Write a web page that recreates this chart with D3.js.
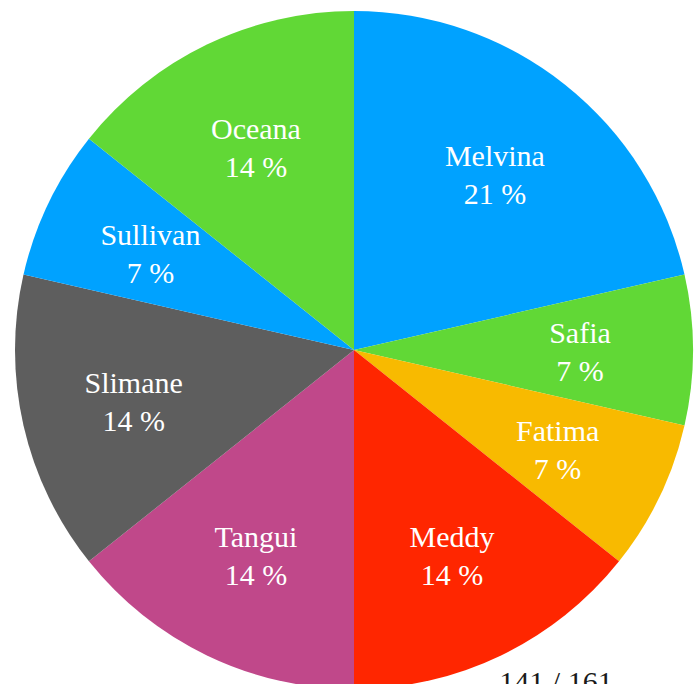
<!DOCTYPE html>
<html>
<head>
<meta charset="utf-8">
<script src="https://cdn.jsdelivr.net/npm/d3@7"></script>
<style>
  html, body { margin: 0; padding: 0; background: #ffffff; }
  svg { display: block; }
</style>
</head>
<body>
<svg id="chart" width="699" height="684"></svg>
<script>
// Share of votes per person, in drawing order (clockwise from 12 o'clock)
const names = ["Melvina", "Safia", "Fatima", "Meddy", "Tangui", "Slimane", "Sullivan", "Oceana"];
const votes = [3, 1, 1, 2, 2, 2, 1, 2];
const colors = ["#00A2FF", "#61D836", "#F8BA00", "#FF2600", "#C0488A", "#5E5E5E", "#00A2FF", "#61D836"];
const footer = "141 / 161";

const svg = d3.select("#chart");
const cx = 354, cy = 350, radius = 339, labelRadius = 226;

const total = d3.sum(votes);
const data = names.map((n, i) => ({ name: n, value: votes[i], color: colors[i] }));

const pie = d3.pie().sort(null).value(d => d.value);
const arc = d3.arc().innerRadius(0).outerRadius(radius);
const labelArc = d3.arc().innerRadius(labelRadius).outerRadius(labelRadius);

const g = svg.append("g").attr("transform", `translate(${cx},${cy})`);
const arcs = pie(data);

g.selectAll("path.slice")
  .data(arcs)
  .join("path")
  .attr("class", "slice")
  .attr("d", arc)
  .attr("fill", d => d.data.color);

const labels = g.selectAll("text.label")
  .data(arcs)
  .join("text")
  .attr("class", "label")
  .attr("transform", d => `translate(${labelArc.centroid(d)})`)
  .attr("text-anchor", "middle")
  .attr("fill", "#ffffff")
  .style("font-family", "'Liberation Serif', 'Times New Roman', serif")
  .style("font-size", "30px");

labels.append("tspan")
  .attr("x", 0)
  .attr("y", -7)
  .text(d => d.data.name);

labels.append("tspan")
  .attr("x", 0)
  .attr("y", 31)
  .text(d => `${Math.round(d.data.value / total * 100)} %`);

svg.append("text")
  .attr("x", 556)
  .attr("y", 692)
  .attr("text-anchor", "middle")
  .attr("fill", "#1a1a1a")
  .style("font-family", "'Liberation Serif', 'Times New Roman', serif")
  .style("font-size", "30px")
  .text(footer);
</script>
</body>
</html>
